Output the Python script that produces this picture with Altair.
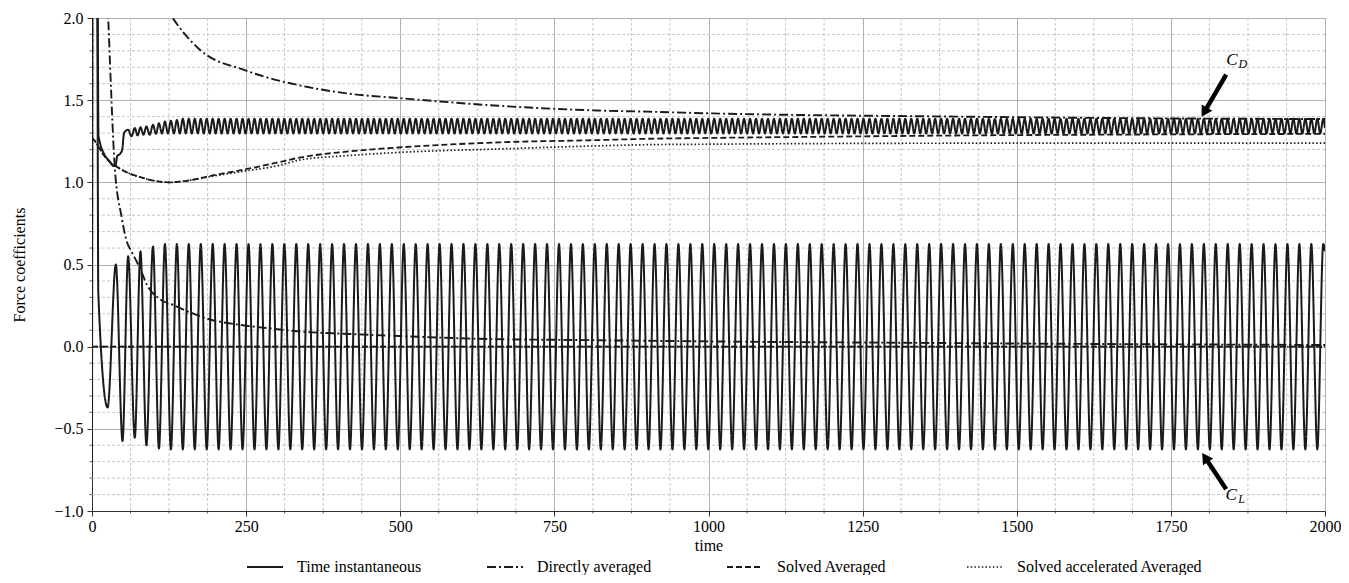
import altair as alt
import pandas as pd

# ---------------- values ----------------
KINDS = ["Time instantaneous", "Directly averaged", "Solved Averaged",
         "Solved accelerated Averaged"]

# C_L instantaneous: start-up transient, then peaks / troughs
cl_start_t = [0.0, 2.0, 6.0, 9.0, 10.2]
cl_start_v = [-0.70, 6.0, 5.0, 1.6, 0.33]
cl_peak_t = [38.7, 58.6, 78.6, 98.9, 118.3, 137.7, 157.0, 176.4, 195.8, 215.1, 234.5,
             253.9, 273.2, 292.6, 312.0, 331.4, 350.7, 370.1, 389.5, 408.8, 428.2, 447.6,
             466.9, 486.3, 505.7, 525.1, 544.4, 563.8, 583.2, 602.5, 621.9, 641.3, 660.6,
             680.0, 699.4, 718.8, 738.1, 757.5, 776.9, 796.2, 815.6, 835.0, 854.3, 873.7,
             893.1, 912.5, 931.8, 951.2, 970.6, 989.9, 1009.3, 1028.7, 1048.0, 1067.4,
             1086.8, 1106.2, 1125.5, 1144.9, 1164.3, 1183.6, 1203.0, 1222.4, 1241.7,
             1261.1, 1280.5, 1299.9, 1319.2, 1338.6, 1358.0, 1377.3, 1396.7, 1416.1,
             1435.4, 1454.8, 1474.2, 1493.6, 1512.9, 1532.3, 1551.7, 1571.0, 1590.4,
             1609.8, 1629.1, 1648.5, 1667.9, 1687.3, 1706.6, 1726.0, 1745.4, 1764.7,
             1784.1, 1803.5, 1822.8, 1842.2, 1861.6, 1881.0, 1900.3, 1919.7, 1939.1,
             1958.4, 1977.8, 1997.2]
cl_peak_early = [0.50, 0.55, 0.58, 0.61]
cl_peak_steady = 0.625
cl_trough_t = [25.3, 49.5, 69.4, 88.3, 108.6, 128.0, 147.3, 166.7, 186.1, 205.4, 224.8,
               244.2, 263.6, 282.9, 302.3, 321.7, 341.0, 360.4, 379.8, 399.1, 418.5,
               437.9, 457.3, 476.6, 496.0, 515.4, 534.7, 554.1, 573.5, 592.8, 612.2,
               631.6, 651.0, 670.3, 689.7, 709.1, 728.4, 747.8, 767.2, 786.5, 805.9,
               825.3, 844.7, 864.0, 883.4, 902.8, 922.1, 941.5, 960.9, 980.2, 999.6,
               1019.0, 1038.4, 1057.7, 1077.1, 1096.5, 1115.8, 1135.2, 1154.6, 1173.9,
               1193.3, 1212.7, 1232.1, 1251.4, 1270.8, 1290.2, 1309.5, 1328.9, 1348.3,
               1367.6, 1387.0, 1406.4, 1425.8, 1445.1, 1464.5, 1483.9, 1503.2, 1522.6,
               1542.0, 1561.3, 1580.7, 1600.1, 1619.5, 1638.8, 1658.2, 1677.6, 1696.9,
               1716.3, 1735.7, 1755.0, 1774.4, 1793.8, 1813.2, 1832.5, 1851.9, 1871.3,
               1890.6, 1910.0, 1929.4, 1948.7, 1968.1, 1987.5]
cl_trough_early = [-0.37, -0.574, -0.554, -0.60, -0.62]
cl_trough_steady = -0.625
cl_end_t = [2000.0]
cl_end_v = [0.58]

# C_D instantaneous: start-up transient, then highs at C_L extrema, lows between them
cd_start_t = [0.0, 2.5, 6.0, 9.0, 10.5, 13.0, 20.0, 28.0, 35.0, 38.0, 41.0, 46.0, 49.0, 52.0]
cd_start_v = [1.27, 7.0, 6.0, 2.4, 1.29, 1.24, 1.17, 1.13, 1.10, 1.10, 1.16, 1.175, 1.20, 1.30]
cd_high_early = [1.32, 1.33, 1.335, 1.34, 1.35, 1.36, 1.37, 1.375, 1.38]
cd_high_steady = 1.387
cd_low_early = [1.28, 1.285, 1.29, 1.29, 1.295]
cd_low_steady = 1.297
cd_end_t = [2000.0]
cd_end_v = [1.33]

# Directly averaged (running means)
cd_dir_t = [0, 1, 10, 30, 60, 100, 131, 174, 250, 350, 416, 497, 659, 820, 901, 1000,
            1401, 1700, 2000]
cd_dir_v = [1.27, 6.0, 9.0, 4.0, 2.8, 2.2, 2.0, 1.81, 1.68, 1.58, 1.54, 1.513, 1.466,
            1.437, 1.43, 1.42, 1.40, 1.39, 1.385]
cl_dir_t = [0, 1, 10, 20, 26.3, 37, 48, 56, 64, 77.5, 90, 110, 134, 158, 190, 226, 255,
            292, 328, 368, 400, 497, 626, 800, 1000, 1304, 1600, 2000]
cl_dir_v = [-0.70, 3.0, 4.0, 2.6, 2.0, 1.09, 0.79, 0.645, 0.58, 0.48, 0.37, 0.29, 0.25,
            0.21, 0.167, 0.14, 0.125, 0.11, 0.095, 0.085, 0.08, 0.065, 0.048, 0.04, 0.032,
            0.024, 0.017, 0.01]

# Solved averaged / solved accelerated averaged
cd_sol_t = [0, 5, 10, 20, 30, 40, 60, 80, 100, 126, 150, 200, 250, 300, 336, 416, 497,
            659, 820, 901, 1000, 1200, 1401, 1700, 2000]
cd_sol_v = [1.27, 1.25, 1.22, 1.16, 1.12, 1.095, 1.055, 1.03, 1.01, 1.0, 1.008, 1.045,
            1.08, 1.12, 1.15, 1.188, 1.212, 1.243, 1.257, 1.265, 1.27, 1.278, 1.285,
            1.291, 1.295]
cd_acc_t = [0, 5, 10, 20, 30, 40, 60, 80, 100, 126, 150, 200, 250, 300, 336, 416, 497,
            659, 820, 901, 1000, 1401, 2000]
cd_acc_v = [1.27, 1.25, 1.22, 1.16, 1.12, 1.095, 1.055, 1.03, 1.01, 1.0, 1.008, 1.04,
            1.07, 1.10, 1.135, 1.163, 1.182, 1.203, 1.222, 1.229, 1.232, 1.238, 1.238]
cl_sol_t = [0, 2000]
cl_sol_v = [0.0, 0.0]
cl_acc_t = [0, 2000]
cl_acc_v = [0.0, 0.0]

# Annotations (C_D, C_L with arrows)
arrow_t = [1839.7, 1839.7]
arrow_v = [1.655, -0.867]
head_t = [1804.2, 1805.6]
head_v = [1.427, -0.674]
head_angle = [210.3, 326.3]
lbl_t = [1849.0, 1847.8]
lbl_v = [1.746, -0.901]
lbl_txt = ["C", "C"]
sub_t = [1866.8, 1864.9]
sub_v = [1.719, -0.926]
sub_txt = ["D", "L"]

x_ticks = [0, 250, 500, 750, 1000, 1250, 1500, 1750, 2000]
y_ticks = [-1.0, -0.5, 0.0, 0.5, 1.0, 1.5, 2.0]
x_minor = [i * 62.5 for i in range(33) if i % 4 != 0]
y_minor = [round(-1.0 + i * 0.1, 1) for i in range(31) if i % 5 != 0]

# ---------------- build table ----------------
rows = []


def add(ts, vs, kind, coef):
    for t, v in zip(ts, vs):
        rows.append({"t": float(t), "v": float(v), "kind": kind, "coef": coef})


def fill(early, steady, n):
    return list(early) + [steady] * (n - len(early))


cl_pv = fill(cl_peak_early, cl_peak_steady, len(cl_peak_t))
cl_tv = fill(cl_trough_early, cl_trough_steady, len(cl_trough_t))
add(cl_start_t, cl_start_v, KINDS[0], "CL")
add(cl_peak_t, cl_pv, KINDS[0], "CL")
add(cl_trough_t, cl_tv, KINDS[0], "CL")
add(cl_end_t, cl_end_v, KINDS[0], "CL")

cl_ext_t = sorted(cl_peak_t + cl_trough_t)
cd_high_t = [t for t in cl_ext_t if t >= 58.0]
cd_low_t = [(a + b) / 2 for a, b in zip(cd_high_t[:-1], cd_high_t[1:])]
add(cd_start_t, cd_start_v, KINDS[0], "CD")
add(cd_high_t, fill(cd_high_early, cd_high_steady, len(cd_high_t)), KINDS[0], "CD")
add(cd_low_t, fill(cd_low_early, cd_low_steady, len(cd_low_t)), KINDS[0], "CD")
add(cd_end_t, cd_end_v, KINDS[0], "CD")

add(cd_dir_t, cd_dir_v, KINDS[1], "CD")
add(cl_dir_t, cl_dir_v, KINDS[1], "CL")
add(cd_sol_t, cd_sol_v, KINDS[2], "CD")
add(cl_sol_t, cl_sol_v, KINDS[2], "CL")
add(cd_acc_t, cd_acc_v, KINDS[3], "CD")
add(cl_acc_t, cl_acc_v, KINDS[3], "CL")

df = pd.DataFrame(rows).sort_values(["kind", "coef", "t"])

# ---------------- chart ----------------
W, H = 1233, 493
FONT = "Liberation Serif"
INK = "#1a1a1a"

x_scale = alt.Scale(domain=[0, 2000], nice=False, zero=False)
y_scale = alt.Scale(domain=[-1.0, 2.0], nice=False, zero=False)
x_axis = alt.Axis(values=x_ticks, format="d", title="time", labelFlush=False,
                  labelOverlap=False, grid=True, titlePadding=3)
y_axis = alt.Axis(values=y_ticks, format=".1f", title="Force coefficients",
                  grid=True, titleX=-73, titleY=H / 2, titleAngle=-90,
                  titleAlign="center", titleBaseline="middle", labelPadding=4)

X = alt.X("t:Q", scale=x_scale, axis=x_axis)
Y = alt.Y("v:Q", scale=y_scale, axis=y_axis)

grid_x = alt.Chart(pd.DataFrame({"t": x_minor})).mark_rule(
    color="#b8b8b8", strokeWidth=0.8, strokeDash=[3, 2]).encode(x=X)
grid_y = alt.Chart(pd.DataFrame({"v": y_minor})).mark_rule(
    color="#b8b8b8", strokeWidth=0.8, strokeDash=[3, 2]).encode(y=Y)

tick_x = alt.Chart(pd.DataFrame({"t": x_minor})).mark_rule(
    color="#333333", strokeWidth=0.8).encode(x=X, y=alt.value(H), y2=alt.value(H + 2.5))
tick_y = alt.Chart(pd.DataFrame({"v": y_minor})).mark_rule(
    color="#333333", strokeWidth=0.8).encode(y=Y, x=alt.value(0), x2=alt.value(-2.5))

lines = alt.Chart(df).mark_line(clip=True, interpolate="monotone", color=INK).encode(
    x=X, y=Y,
    strokeDash=alt.StrokeDash(
        "kind:N",
        scale=alt.Scale(domain=KINDS, range=[[1, 0], [9, 3, 2, 3], [6, 3], [1.5, 2.2]]),
        legend=alt.Legend(title=None, orient="none", legendX=154, legendY=530,
                          direction="horizontal", columns=4, gridAlign="all",
                          symbolType="stroke", symbolSize=1296, symbolStrokeWidth=2,
                          symbolStrokeColor=INK, labelFont=FONT, labelFontSize=16,
                          labelColor="black", labelOffset=13, columnPadding=0,
                          padding=0, labelLimit=0)),
    strokeWidth=alt.StrokeWidth("kind:N", scale=alt.Scale(domain=KINDS,
                                range=[2.0, 1.7, 1.8, 1.8]), legend=None),
    detail="coef:N",
)

arrows = alt.Chart(pd.DataFrame({"t": arrow_t, "v": arrow_v, "t2": head_t, "v2": head_v})
                   ).mark_rule(color="black", strokeWidth=4.5).encode(
    x=X, y=Y, x2="t2:Q", y2="v2:Q")
heads = alt.Chart(pd.DataFrame({"t": head_t, "v": head_v, "a": head_angle})).mark_point(
    shape="triangle-up", filled=True, size=150, color="black", opacity=1).encode(
    x=X, y=Y, angle=alt.Angle("a:Q", scale=None))
labels = alt.Chart(pd.DataFrame({"t": lbl_t, "v": lbl_v, "s": lbl_txt})).mark_text(
    font=FONT, fontStyle="italic", fontSize=17, color="black").encode(x=X, y=Y, text="s:N")
subs = alt.Chart(pd.DataFrame({"t": sub_t, "v": sub_v, "s": sub_txt})).mark_text(
    font=FONT, fontStyle="italic", fontSize=12, color="black").encode(x=X, y=Y, text="s:N")

chart = alt.layer(grid_x, grid_y, tick_x, tick_y, lines, arrows, heads, labels, subs).properties(
    width=W, height=H,
    autosize=alt.AutoSizeParams(type="none"),
    padding={"left": 84, "top": 10, "right": 16, "bottom": 64},
).configure_view(stroke="#333333", strokeWidth=1).configure_axis(
    labelFont=FONT, labelFontSize=16, labelColor="black",
    titleFont=FONT, titleFontSize=16, titleColor="black", titleFontWeight="normal",
    domainColor="#333333", domainWidth=1, tickColor="#333333", tickSize=5, tickWidth=1,
    gridColor="#b0b0b0", gridWidth=1,
)

chart.save("out.html", embed_options={"renderer": "svg", "actions": False})
